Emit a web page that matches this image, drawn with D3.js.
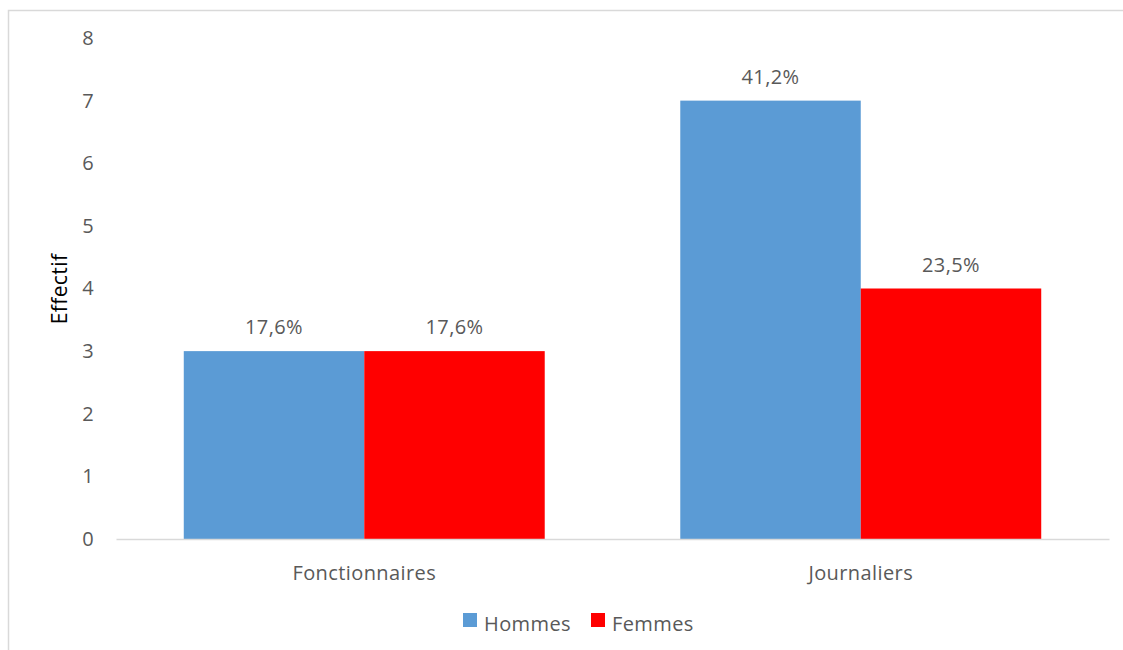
<!DOCTYPE html>
<html><head><meta charset="utf-8">
<script src="https://cdn.jsdelivr.net/npm/d3@7"></script>
<style>body{margin:0;background:#fff}svg{display:block}text{font-family:"Open Sans",sans-serif;fill:#595959;letter-spacing:0.4px}</style>
</head><body><svg id="c" width="1123" height="650"></svg>
<script>
const categories = ["Fonctionnaires", "Journaliers"];
const seriesNames = ["Hommes", "Femmes"];
const hommes = [3, 7];
const femmes = [3, 4];
const hommesLabels = ["17,6%", "41,2%"];
const femmesLabels = ["17,6%", "23,5%"];
const yTicks = [0, 1, 2, 3, 4, 5, 6, 7, 8];
const colors = ["#5B9BD5", "#FF0000"];

const svg = d3.select("#c");
svg.append("rect").attr("x", 8.5).attr("y", 10.5).attr("width", 1130).attr("height", 650)
  .attr("fill", "#fff").attr("stroke", "#d9d9d9").attr("stroke-width", 1.5);

const pLeft = 116, pRight = 1109, pTop = 38, pBottom = 539;
const x0 = d3.scaleBand().domain(categories).range([pLeft, pRight]).paddingInner(0.273).paddingOuter(0.1365);
const x1 = d3.scaleBand().domain(seriesNames).range([0, x0.bandwidth()]);
const y = d3.scaleLinear().domain([0, 8]).range([pBottom, pTop]);

const yAxis = d3.axisLeft(y).tickValues(yTicks).tickSize(0).tickPadding(0);
const gy = svg.append("g").attr("transform", `translate(${94},0)`).call(yAxis);
gy.select(".domain").remove();
gy.selectAll("text").attr("font-size", 20).attr("fill", "#595959").attr("font-family", "Open Sans");

const data = categories.map((c, i) => ({cat: c, vals: [
  {s: seriesNames[0], v: hommes[i], l: hommesLabels[i]},
  {s: seriesNames[1], v: femmes[i], l: femmesLabels[i]}]}));

const g = svg.append("g").selectAll("g").data(data).join("g")
  .attr("transform", d => `translate(${x0(d.cat)},0)`);
g.selectAll("rect").data(d => d.vals).join("rect")
  .attr("x", d => x1(d.s)).attr("width", x1.bandwidth())
  .attr("y", d => y(d.v)).attr("height", d => y(0) - y(d.v))
  .attr("fill", (d, i) => colors[i]);
g.selectAll("text").data(d => d.vals).join("text")
  .attr("x", d => x1(d.s) + x1.bandwidth() / 2).attr("y", d => y(d.v) - 17)
  .attr("text-anchor", "middle").attr("font-size", 20).text(d => d.l);

const xAxis = d3.axisBottom(x0).tickSize(0).tickPadding(0);
const gx = svg.append("g").attr("transform", `translate(0,${pBottom})`).call(xAxis);
gx.select(".domain").attr("stroke", "#d9d9d9").attr("stroke-width", 1.5);
gx.selectAll("text").attr("dy", 0).attr("y", 41).attr("font-size", 20).attr("fill", "#595959").attr("font-family", "Open Sans");

svg.append("text").attr("transform", "translate(67,289) rotate(-90)")
  .attr("text-anchor", "middle").attr("font-size", 21).style("fill", "#000").text("Effectif");

const legendX = [463, 591];
const lg = svg.append("g").selectAll("g").data(seriesNames).join("g")
  .attr("transform", (d, i) => `translate(${legendX[i]},613)`);
lg.append("rect").attr("width", 14).attr("height", 14).attr("fill", (d, i) => colors[i]);
lg.append("text").attr("x", 21).attr("y", 18).attr("font-size", 20).text(d => d);
</script></body></html>
